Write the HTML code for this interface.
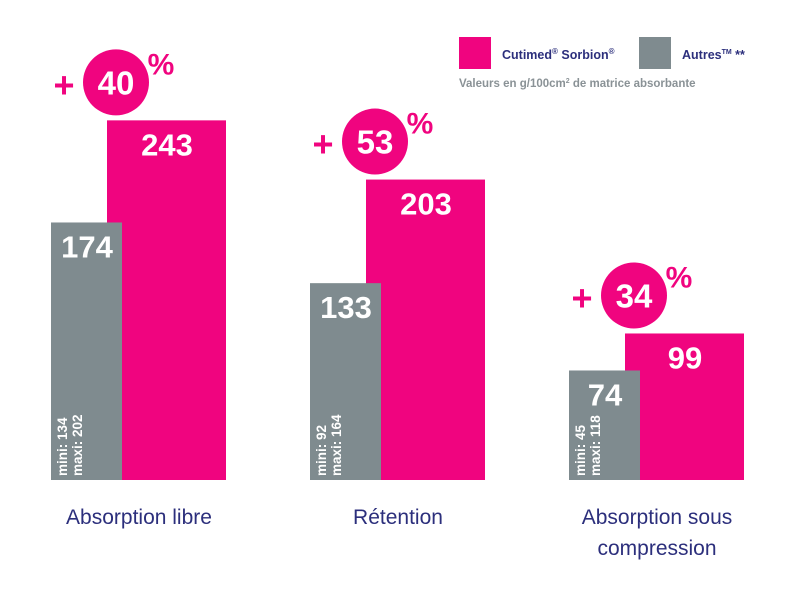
<!DOCTYPE html>
<html><head><meta charset="utf-8"><style>
body{margin:0;background:#fff}
svg{display:block}
.n{font-family:"Liberation Sans Narrow","Liberation Sans",sans-serif;font-weight:bold}
.s{font-family:"Liberation Sans",sans-serif}
</style></head><body>
<svg id="c" width="800" height="600" viewBox="0 0 800 600">
<g>
<rect x="459" y="37" width="32" height="32" fill="#f0047f"/>
<text x="502" y="59" class="s" font-size="12.5" font-weight="bold" fill="#2c2f7c">Cutimed<tspan font-size="8" dy="-5">®</tspan><tspan dy="5"> Sorbion</tspan><tspan font-size="8" dy="-5">®</tspan></text>
<rect x="639" y="37" width="32" height="32" fill="#7f8b8f"/>
<text x="682" y="59" class="s" font-size="12.5" font-weight="bold" fill="#2c2f7c">Autres<tspan font-size="7" dy="-5">TM</tspan><tspan dy="5"> **</tspan></text>
<text x="459" y="87" class="s" font-size="11.5" font-weight="bold" fill="#8a9296">Valeurs en g/100cm<tspan font-size="7" dy="-4">2</tspan><tspan dy="4"> de matrice absorbante</tspan></text>
</g>
<g id="bars"></g>
</svg>
<script>
const categories=[["Absorption libre"],["Rétention"],["Absorption sous","compression"]];
const sorbionValues=[243,203,99];
const autresValues=[174,133,74];
const miniValues=[134,92,45];
const maxiValues=[202,164,118];
const percentLabels=["40","53","34"];
const NS="http://www.w3.org/2000/svg";
const g=document.getElementById('bars');
const base=480, k=1.48;
const y=v=>base-v*k;
const gx=i=>51+i*259;
function mk(t,a,txt){const e=document.createElementNS(NS,t);for(const n in a)e.setAttribute(n,a[n]);if(txt!=null)e.textContent=txt;g.appendChild(e);return e;}
categories.forEach((cat,i)=>{
 const px=gx(i)+56, pt=y(sorbionValues[i]);
 let e=mk('rect',{x:px,y:pt,width:119,height:base-pt,fill:'#f0047f'});
 
 
 e=mk('text',{x:px+60,y:pt+35,'text-anchor':'middle','font-size':31,fill:'#fff',class:'n'},String(sorbionValues[i]));
 
 
 const gt=y(autresValues[i]);
 e=mk('rect',{x:gx(i),y:gt,width:71,height:base-gt,fill:'#7f8b8f'});
 
 
 e=mk('text',{x:gx(i)+36,y:gt+35,'text-anchor':'middle','font-size':31,fill:'#fff',class:'n'},String(autresValues[i]));
 
 
 e=mk('text',{x:0,y:0,'font-size':13.5,fill:'#fff',class:'n',transform:`translate(${gx(i)+16},476) rotate(-90)`},'mini: '+miniValues[i]);
 
 
 e=mk('text',{x:0,y:0,'font-size':13.5,fill:'#fff',class:'n',transform:`translate(${gx(i)+31},476) rotate(-90)`},'maxi: '+maxiValues[i]);
 
 
 const cx=px+9, cy=pt-38;
 e=mk('circle',{cx:cx,cy:cy,r:33,fill:'#f0047f'});
 
 
 e=mk('text',{x:cx,y:cy+12,'text-anchor':'middle','font-size':33,fill:'#fff',class:'n'},percentLabels[i]);
 
 
 e=mk('text',{x:cx-52,y:cy+15,'text-anchor':'middle','font-size':36,fill:'#f0047f',class:'n'},'+');
 
 
 e=mk('text',{x:cx+45,y:cy-8,'text-anchor':'middle','font-size':30,fill:'#f0047f',class:'n'},'%');
 
 
 cat.forEach((line,j)=>{
  e=mk('text',{x:gx(i)+88,y:524+j*31,'text-anchor':'middle','font-size':21,fill:'#2c2f7c',class:'s'},line);
  
  
 });
});
</script>
</body></html>
